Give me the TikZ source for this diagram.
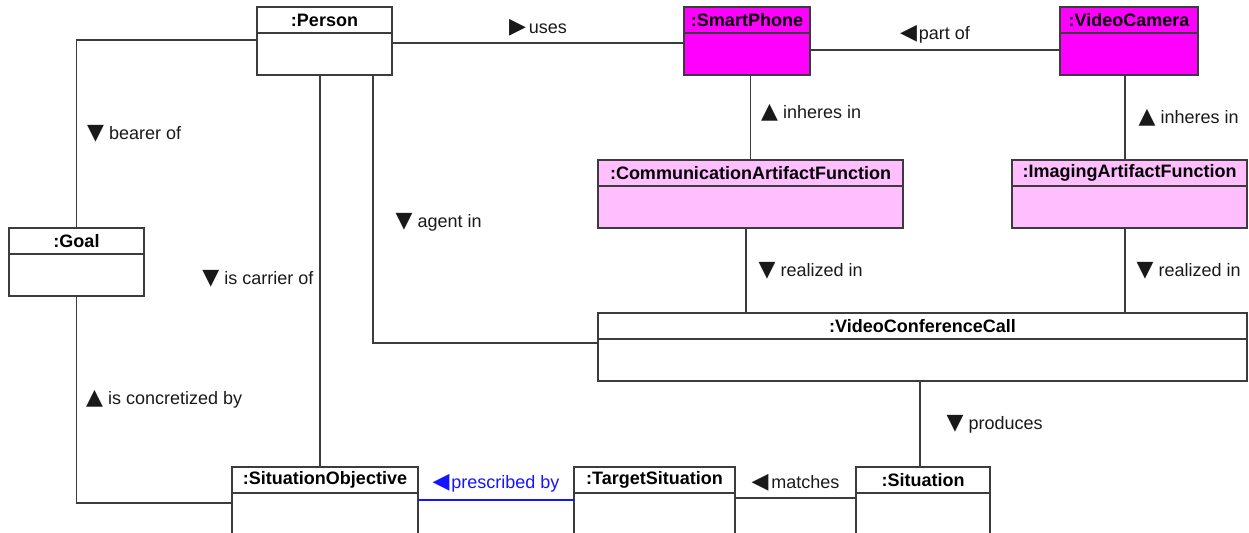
\documentclass[tikz,border=0pt]{standalone}
\usepackage{fontspec}
\setmainfont{Liberation Sans}
\newfontfamily\symfont{DejaVu Sans}
\usetikzlibrary{positioning}
\definecolor{phonefill}{RGB}{255,0,255}
\definecolor{funcfill}{RGB}{255,191,255}
\definecolor{linecol}{RGB}{60,60,60}
\definecolor{prescol}{RGB}{20,20,255}
\newcommand\tri[1]{{\symfont\fontsize{22bp}{20bp}\selectfont #1}}
\begin{document}
\begin{tikzpicture}[x=1bp,y=-1bp,
  objhead/.style={draw=linecol, line width=1.5bp, outer sep=0pt, inner sep=0pt,
    minimum height=26bp, font=\fontsize{18bp}{20bp}\selectfont\bfseries},
  objbody/.style={draw=linecol, line width=1.5bp, outer sep=0pt, inner sep=0pt,
    minimum height=42bp},
  link/.style={draw=linecol, line width=1.2bp},
  rolelabel/.style={inner sep=2bp, text=black!90, font=\fontsize{18bp}{20bp}\selectfont},
]
\useasboundingbox (0,0) rectangle (1249,533);
\clip (0,0) rectangle (1249,533);
%%
  % Node: Person
  \node[objhead, minimum width=135bp] (personhead) at (324.5,20) {:Person};
  \node[objbody, minimum width=135bp, below=0pt of personhead] (personbody) {};
  % Node: SmartPhone
  \node[objhead, fill=phonefill, minimum width=126bp] (phonehead) at (747,20) {:SmartPhone};
  \node[objbody, fill=phonefill, minimum width=126bp, below=0pt of phonehead] (phonebody) {};
  % Node: VideoCamera
  \node[objhead, fill=phonefill, minimum width=138bp] (camhead) at (1129,20) {:VideoCamera};
  \node[objbody, fill=phonefill, minimum width=138bp, below=0pt of camhead] (cambody) {};
  % Node: CommunicationArtifactFunction
  \node[objhead, fill=funcfill, minimum width=305bp] (cafhead) at (750.5,173) {:CommunicationArtifactFunction};
  \node[objbody, fill=funcfill, minimum width=305bp, below=0pt of cafhead] (cafbody) {};
  % Node: ImagingArtifactFunction
  \node[objhead, fill=funcfill, minimum width=235bp] (iafhead) at (1129.5,173) {:ImagingArtifactFunction};
  \node[objbody, fill=funcfill, minimum width=235bp, below=0pt of iafhead] (iafbody) {};
  % Node: Goal
  \node[objhead, minimum width=135bp] (goalhead) at (76.5,241) {:Goal};
  \node[objbody, minimum width=135bp, below=0pt of goalhead] (goalbody) {};
  % Node: VideoConferenceCall
  \node[objhead, minimum width=649bp] (vcchead) at (922.5,326) {:VideoConferenceCall};
  \node[objbody, minimum width=649bp, below=0pt of vcchead] (vccbody) {};
  % Node: SituationObjective
  \node[objhead, minimum width=186bp] (sitobjhead) at (325,480) {:SituationObjective};
  \node[objbody, minimum width=186bp, minimum height=70bp, anchor=north] (sitobjbody) at (sitobjhead.south) {};
  % Node: TargetSituation
  \node[objhead, minimum width=161bp] (targethead) at (654.5,480) {:TargetSituation};
  \node[objbody, minimum width=161bp, minimum height=70bp, anchor=north] (targetbody) at (targethead.south) {};
  % Node: Situation
  \node[objhead, minimum width=134bp] (situationhead) at (923,480) {:Situation};
  \node[objbody, minimum width=134bp, minimum height=70bp, anchor=north] (situationbody) at (situationhead.south) {};
  % Edge: Person -> SmartPhone
  \draw[link] ([yshift=11bp]personbody.east) -- node[rolelabel, above=4bp] {\tri{▶}\kern3bp uses} ([yshift=11bp]phonebody.west);
  % Edge: SmartPhone -> VideoCamera
  \draw[link] ([yshift=4bp]cambody.west) -- node[rolelabel, above=4bp] {\tri{◀}\kern2bp part of} ([yshift=4bp]phonebody.east);
  % Edge: Person -> Goal
  \draw[link] ([yshift=14bp]personbody.west) -| node[pos=0.75, rolelabel, right=8bp] {\tri{▼} bearer of} (goalhead.north);
  % Edge: Goal -> SituationObjective
  \draw[link] (goalbody.south) |- node[pos=0.25, rolelabel, right=7bp] {\tri{▲} is concretized by} ([yshift=25bp]sitobjbody.west);
  % Edge: Person -> SituationObjective
  \draw[link] ([xshift=-4.5bp]personbody.south) -- node[pos=0.52, rolelabel, left=4bp] {\tri{▼} is carrier of} ([xshift=-5bp]sitobjhead.north);
  % Edge: Person -> VideoConferenceCall
  \draw[link] ([xshift=48.5bp]personbody.south) |- node[pos=0.275, rolelabel, right=20bp] {\tri{▼} agent in} ([yshift=17bp]vccbody.west);
  % Edge: CommunicationArtifactFunction -> SmartPhone
  \draw[link] (phonebody.south -| cafhead.north) -- node[pos=0.45, rolelabel, right=8bp] {\tri{▲} inheres in} (cafhead.north);
  % Edge: ImagingArtifactFunction -> VideoCamera
  \draw[link] ([xshift=-4bp]cambody.south) -- node[pos=0.5, rolelabel, right=11bp] {\tri{▲} inheres in} ([xshift=-4bp]cambody.south |- iafhead.north);
  % Edge: CommunicationArtifactFunction -> VideoConferenceCall
  \draw[link] ([xshift=-4.5bp]cafbody.south) -- node[rolelabel, right=10bp] {\tri{▼} realized in} ([xshift=-4.5bp]cafbody.south |- vcchead.north);
  % Edge: ImagingArtifactFunction -> VideoConferenceCall
  \draw[link] ([xshift=-4.5bp]iafbody.south) -- node[rolelabel, right=9bp] {\tri{▼} realized in} ([xshift=-4.5bp]iafbody.south |- vcchead.north);
  % Edge: VideoConferenceCall -> Situation
  \draw[link] ([xshift=-3bp]situationhead.north |- vccbody.south) -- node[rolelabel, right=24bp] {\tri{▼} produces} ([xshift=-3bp]situationhead.north);
  % Edge: Situation -> TargetSituation
  \draw[link] ([yshift=30bp]situationbody.west) -- node[rolelabel, above=4bp] {\tri{◀}\kern3bp matches} ([yshift=30bp]targetbody.east);
  % Edge: TargetSituation -> SituationObjective
  \draw[link, draw=prescol] ([yshift=28bp]targetbody.west) -- node[rolelabel, text=prescol, above=5bp] {\tri{◀}\kern2bp prescribed by} ([yshift=28bp]sitobjbody.east);
%
\end{tikzpicture}
\end{document}
